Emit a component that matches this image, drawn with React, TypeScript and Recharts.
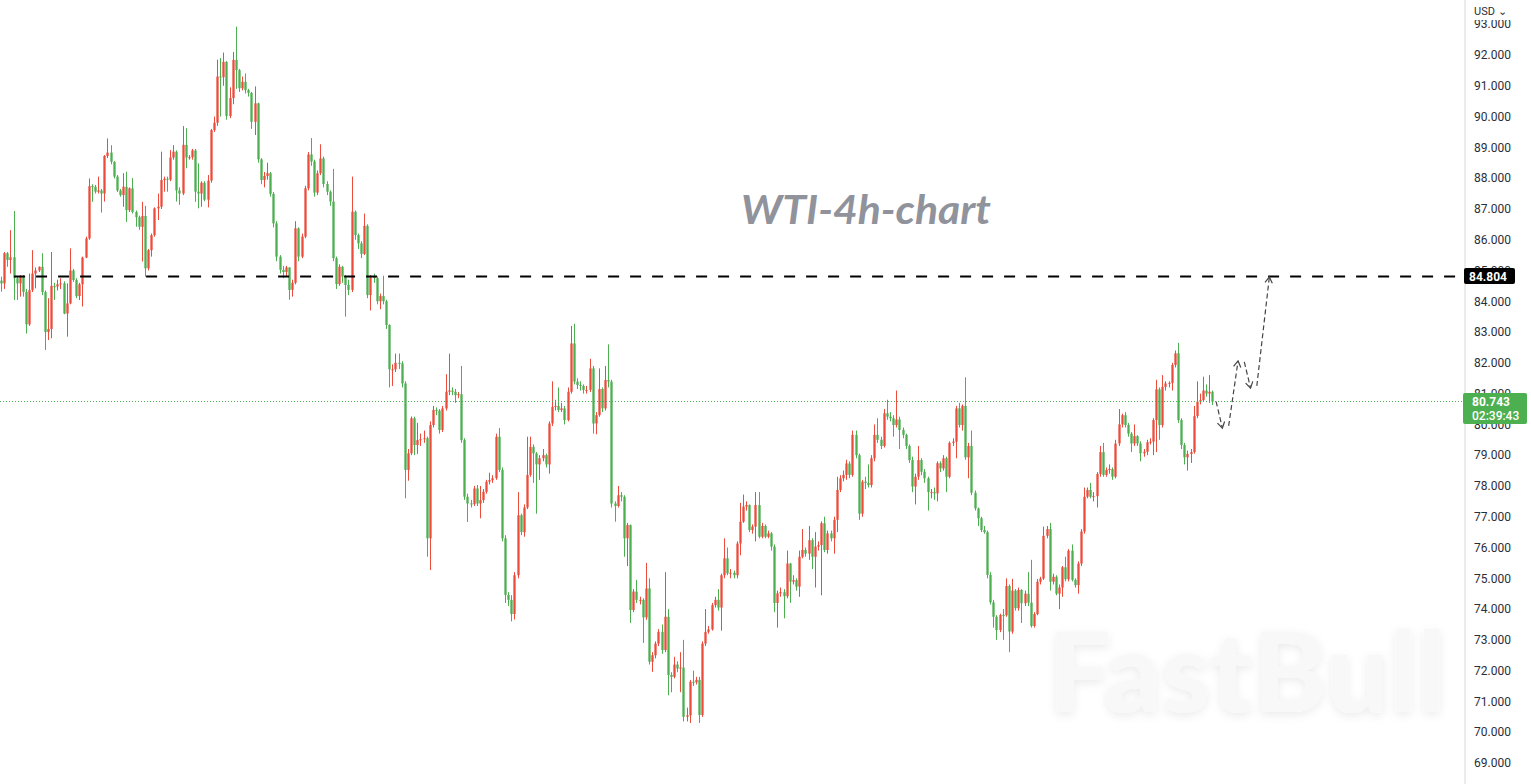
import React from 'react';
import { ComposedChart, Bar, XAxis, YAxis, ReferenceLine } from 'recharts';

// ---------- data ----------
const firstOpen = 84.67;

const closes: number[] = [
  84.58, 85.56, 85.34, 85.43, 84.75, 84.58, 84.80, 84.30, 83.25, 84.36,
  84.90, 85.00, 85.12, 84.30, 83.00, 83.10, 84.50, 84.48, 84.55, 84.58,
  83.60, 83.93, 85.00, 84.69, 84.17, 84.55, 85.42, 86.04, 87.74, 87.72,
  87.56, 87.60, 87.50, 88.72, 88.83, 88.53, 88.05, 87.60, 87.45, 87.72,
  86.96, 87.67, 86.90, 86.73, 86.42, 86.77, 85.07, 85.66, 86.15, 87.02,
  87.07, 87.94, 87.98, 87.95, 88.67, 88.86, 87.60, 87.50, 89.08, 88.67,
  88.68, 88.90, 87.56, 87.50, 87.85, 87.30, 87.92,
  89.56, 89.80, 91.30, 91.28, 91.78, 90.02, 90.60, 91.84, 91.51, 90.92,
  91.13, 90.86, 90.77, 89.83, 90.43, 88.61, 87.94, 88.07, 88.16, 87.49,
  86.53, 85.45, 85.02, 84.95, 85.10, 84.37, 84.60, 86.37, 85.45, 86.10,
  87.67, 88.77, 88.54, 87.53, 88.16, 88.64, 87.81, 87.56, 87.24, 85.40,
  84.56, 85.12, 84.80, 84.53, 84.37, 86.91, 86.15, 85.88, 85.54, 86.45,
  84.20, 84.80, 84.75, 84.00, 84.17, 84.00, 83.23, 81.79, 81.79, 82.00,
  81.98, 81.33, 78.52,
  79.06, 80.20, 79.33, 79.49, 79.52, 79.55, 76.30, 79.98, 80.47, 80.45,
  79.82, 80.52, 81.06, 81.10, 81.06, 80.95, 80.98, 79.49, 77.65, 77.43,
  77.41, 77.92, 77.43, 77.54, 77.81, 78.14, 78.19, 78.25, 79.60, 78.52,
  76.30, 74.46, 74.30, 73.84, 75.10, 77.05, 76.50, 77.30, 78.36, 79.27,
  79.06, 78.70, 78.90, 79.00, 78.70, 80.03, 80.57, 80.60, 80.47, 80.52,
  80.14, 81.06, 82.63, 81.39, 81.28, 81.25, 81.12, 81.12, 81.82, 80.03,
  80.30, 81.15, 80.52, 81.44, 81.39,
  77.43, 77.35, 77.70, 77.65, 76.30, 76.73, 73.97, 74.57, 74.30, 74.30,
  73.73, 74.67, 72.29, 72.50, 72.88, 73.26, 72.67, 73.75, 71.86, 71.80,
  72.20, 72.07, 72.10, 70.50, 70.55, 71.64, 71.62, 71.70, 70.56, 72.88,
  73.26, 73.34, 74.13, 74.30, 74.05, 75.10, 75.65, 75.16, 75.18, 75.10,
  76.13, 76.84, 77.33, 77.38, 76.57, 76.68, 77.38, 76.35, 76.70, 76.35,
  76.46, 76.03, 74.20, 74.51, 74.55, 74.42, 75.48, 74.89, 74.94, 74.73,
  75.70, 75.92, 75.80, 76.24,
  75.70, 76.03, 76.08, 76.79, 75.92, 76.46, 76.30, 76.90, 77.87, 78.25,
  78.36, 78.73, 78.36, 79.66, 79.00, 77.10, 78.14, 78.10, 78.03, 78.90,
  79.66, 79.50, 79.30, 80.36, 80.25, 80.20, 79.98, 80.16, 79.82, 79.66,
  79.30, 78.84, 77.98, 78.30, 78.84, 78.46, 78.25, 77.80, 77.80, 77.76,
  78.74, 78.57, 78.90, 78.30, 79.40, 79.44, 80.52, 79.98, 80.60, 78.93,
  79.30, 77.78, 77.27, 76.95, 76.57, 76.50, 75.11, 74.22, 73.75, 73.32,
  73.81, 73.80,
  74.75, 73.27, 74.60, 74.03, 74.62, 74.19, 74.50, 74.21, 73.45, 73.84,
  74.89, 74.99, 76.38, 76.60, 74.89, 75.05, 74.50, 74.70, 75.36, 74.97,
  75.90, 74.95,
  74.78, 75.48, 76.52, 77.65, 77.87, 77.65, 77.67, 78.39, 79.10, 78.36,
  78.52, 78.55, 78.30, 79.38, 80.00, 80.30, 79.98, 79.70, 79.38, 79.62,
  79.38, 79.06, 79.11, 79.42, 79.44, 80.14, 81.14, 79.98, 81.22, 81.33,
  81.35, 81.93, 82.31, 80.14, 79.33, 78.93, 79.04, 79.10, 80.27, 80.74,
  80.79, 81.10, 81.00, 81.06, 80.743,
];

const highs: number[] = [
  84.80, 85.60, 85.60, 86.31, 86.93, 84.80, 84.85, 84.85, 84.40, 84.90,
  85.66, 85.10, 85.13, 85.56, 84.35, 84.10, 85.60, 84.60, 84.70, 84.75,
  84.65, 84.58, 85.72, 85.05, 84.75, 84.60, 85.45, 86.10, 87.99, 87.80,
  87.78, 88.05, 87.65, 88.75, 89.29, 89.07, 88.55, 88.10, 87.65, 88.16,
  88.21, 87.70, 88.00, 86.95, 86.78, 87.23, 87.10, 85.70, 86.20, 87.05,
  87.50, 88.86, 88.05, 88.05, 88.91, 89.07, 88.90, 87.70, 89.69, 89.62,
  88.75, 88.95, 88.95, 88.48, 87.90, 87.90, 88.10,
  89.60, 90.00, 91.85, 91.90, 92.08, 91.80, 90.95, 92.10, 92.92, 91.55,
  91.30, 91.40, 90.90, 90.80, 90.98, 90.45, 88.65, 88.20, 88.50, 88.20,
  87.55, 86.60, 85.50, 85.15, 85.15, 85.10, 84.70, 86.60, 86.40, 86.20,
  87.75, 88.85, 89.30, 88.60, 88.25, 89.10, 88.70, 87.90, 87.60, 88.30,
  85.45, 85.20, 85.15, 84.85, 84.70, 88.05, 86.95, 86.20, 85.95, 86.85,
  86.50, 84.85, 84.90, 84.80, 84.25, 84.83, 84.05, 83.25, 81.95, 82.30,
  82.30, 82.05, 81.40,
  79.20, 80.26, 80.25, 80.05, 79.70, 79.80, 79.60, 80.10, 80.60, 80.55,
  80.50, 80.60, 81.63, 82.30, 81.20, 81.15, 81.05, 81.90, 79.55, 77.75,
  77.55, 78.00, 78.03, 78.00, 77.90, 78.20, 78.43, 78.35, 79.70, 79.88,
  78.60, 76.40, 74.55, 74.45, 75.20, 77.80, 77.10, 77.40, 79.60, 79.60,
  79.35, 79.10, 79.00, 79.20, 79.05, 80.10, 81.40, 80.80, 81.20, 80.70,
  80.60, 81.20, 83.20, 83.27, 81.50, 81.40, 81.30, 81.25, 82.13, 81.90,
  80.40, 81.82, 81.20, 81.90, 82.60,
  81.45, 77.50, 78.00, 77.80, 77.70, 76.80, 76.75, 74.65, 74.95, 74.40,
  74.35, 75.50, 75.00, 72.60, 72.95, 73.35, 73.50, 75.20, 74.00, 71.95,
  72.45, 72.30, 72.60, 73.00, 70.80, 71.70, 72.00, 71.80, 71.80, 72.95,
  74.00, 73.45, 74.20, 74.40, 74.65, 75.15, 76.30, 76.00, 75.30, 75.25,
  76.20, 77.45, 77.72, 77.50, 77.40, 76.75, 77.80, 77.80, 76.80, 76.75,
  76.55, 76.50, 76.10, 74.60, 74.70, 74.65, 75.90, 75.50, 75.10, 75.00,
  75.90, 76.60, 76.00, 76.70,
  76.30, 76.50, 76.20, 76.85, 77.00, 76.55, 76.55, 77.00, 78.30, 78.35,
  78.50, 78.85, 78.80, 79.80, 79.80, 79.05, 78.20, 78.30, 78.70, 79.00,
  80.00, 80.20, 79.60, 80.50, 80.80, 80.40, 80.30, 81.10, 80.25, 79.90,
  79.70, 79.35, 78.95, 78.40, 79.30, 78.90, 78.55, 78.30, 77.90, 77.95,
  78.80, 78.80, 79.00, 78.95, 79.45, 79.55, 80.60, 80.70, 80.65, 81.53,
  79.40, 79.80, 77.85, 77.30, 77.00, 76.70, 76.55, 75.20, 74.30, 73.80,
  73.85, 74.00,
  75.00, 74.80, 74.98, 74.65, 74.70, 74.65, 74.60, 75.20, 75.60, 73.90,
  74.98, 75.05, 76.68, 76.70, 76.80, 75.15, 75.10, 74.80, 75.40, 75.70,
  75.95, 76.10,
  75.00, 75.55, 76.60, 77.95, 77.95, 78.10, 77.80, 78.45, 79.30, 79.40,
  78.60, 78.70, 78.60, 79.50, 80.50, 80.35, 80.40, 80.05, 79.75, 80.00,
  79.65, 79.45, 79.20, 79.50, 79.55, 80.20, 81.45, 81.20, 81.60, 81.40,
  81.40, 82.00, 82.40, 82.65, 80.20, 79.40, 79.15, 79.20, 80.60, 81.40,
  81.00, 81.55, 81.30, 81.60, 81.10,
];

const lows: number[] = [
  84.31, 84.40, 85.12, 84.90, 84.04, 84.04, 84.15, 84.15, 82.95, 83.20,
  84.30, 84.42, 84.95, 84.20, 82.42, 82.74, 82.80, 84.04, 84.35, 84.40,
  83.58, 82.85, 83.90, 84.63, 84.10, 84.04, 83.83, 85.40, 86.00, 87.23,
  87.50, 87.50, 86.88, 87.24, 88.65, 88.45, 87.99, 87.55, 87.40, 87.07,
  86.58, 86.90, 86.85, 86.42, 86.32, 85.29, 84.80, 85.00, 85.45, 86.10,
  86.64, 87.00, 87.56, 87.56, 87.90, 88.60, 87.24, 87.13, 87.45, 88.32,
  88.60, 88.60, 87.23, 87.02, 87.07, 87.25, 87.05,
  87.85, 89.50, 89.70, 90.00, 91.00, 89.90, 89.95, 90.40, 90.90, 90.80,
  90.85, 90.75, 90.65, 89.60, 89.40, 88.50, 87.80, 87.70, 87.95, 87.40,
  86.40, 85.30, 84.90, 84.75, 84.80, 84.05, 84.15, 84.55, 85.30, 85.40,
  86.05, 87.60, 88.40, 87.40, 87.45, 88.10, 87.70, 87.45, 87.10, 85.30,
  84.40, 84.50, 84.60, 83.50, 84.20, 84.30, 86.00, 85.70, 85.40, 85.50,
  84.10, 83.70, 84.60, 83.90, 83.74, 83.90, 83.10, 81.20, 81.25, 81.70,
  81.80, 81.20, 77.60,
  78.17, 79.00, 79.00, 79.04, 79.30, 79.40, 75.70, 75.27, 79.90, 80.30,
  79.70, 79.75, 80.45, 80.95, 80.95, 80.70, 80.85, 79.40, 77.55, 76.83,
  77.30, 77.35, 77.35, 76.95, 77.45, 77.75, 78.05, 78.10, 78.20, 78.45,
  76.20, 74.20, 74.10, 73.60, 73.66, 75.00, 76.40, 76.35, 77.25, 78.30,
  78.10, 77.10, 78.20, 78.80, 78.60, 78.40, 79.95, 80.45, 80.40, 80.40,
  80.00, 80.10, 81.00, 81.30, 81.15, 81.10, 81.00, 81.00, 81.05, 79.70,
  79.68, 80.25, 80.40, 80.45, 81.20,
  77.30, 76.84, 77.30, 77.50, 75.70, 75.40, 73.55, 73.90, 74.20, 74.15,
  72.90, 73.65, 72.20, 71.96, 72.40, 72.80, 72.55, 72.60, 71.20, 71.30,
  71.75, 71.95, 71.30, 70.35, 70.35, 70.30, 71.50, 71.55, 70.30, 70.50,
  72.80, 73.20, 73.30, 74.05, 73.95, 73.30, 75.00, 75.10, 75.00, 75.00,
  75.00, 75.75, 76.80, 77.20, 76.50, 76.45, 76.20, 76.30, 76.30, 76.30,
  76.30, 75.90, 73.90, 73.40, 74.40, 73.70, 74.35, 74.20, 74.80, 74.60,
  74.40, 75.65, 75.70, 75.60,
  75.30, 74.70, 75.90, 74.45, 75.85, 75.80, 76.20, 75.80, 76.50, 77.80,
  78.15, 78.20, 78.25, 78.30, 78.90, 76.90, 77.00, 77.90, 77.95, 77.95,
  78.80, 79.40, 79.20, 79.25, 80.15, 80.10, 79.60, 79.90, 79.20, 79.55,
  79.20, 78.75, 77.80, 77.40, 78.20, 78.35, 78.10, 77.20, 77.60, 77.55,
  77.50, 78.45, 78.50, 77.80, 78.25, 79.30, 78.90, 79.90, 79.80, 78.85,
  78.25, 77.70, 77.20, 76.70, 76.50, 76.45, 75.00, 74.15, 73.40, 73.00,
  73.25, 73.00,
  73.75, 72.60, 73.20, 73.95, 73.95, 73.55, 74.10, 74.10, 73.40, 73.40,
  73.80, 74.80, 74.95, 76.30, 74.60, 74.80, 74.45, 74.00, 74.40, 74.90,
  74.90, 74.90,
  74.70, 74.50, 75.40, 76.45, 77.60, 77.60, 77.50, 77.30, 78.30, 78.30,
  78.30, 78.40, 78.20, 78.25, 79.30, 79.90, 79.90, 79.60, 79.10, 79.30,
  79.30, 78.80, 78.95, 79.00, 79.35, 79.00, 79.10, 79.50, 79.90, 81.10,
  81.20, 81.10, 81.85, 80.05, 79.20, 78.70, 78.50, 78.75, 79.05, 80.20,
  80.65, 80.75, 80.90, 80.70, 80.63,
];

const futureBars = 80; // empty bar slots to the right of the last candle
const priceTicks = [69, 70, 71, 72, 73, 74, 75, 76, 77, 78, 79, 80, 81, 82, 83, 84, 85, 86, 87, 88, 89, 90, 91, 92, 93];
const lastPrice = 80.743;
const countdown = '02:39:43';
const targetLevel = 84.804;
const targetStartBar = 4;
const priceDomain: [number, number] = [68.318, 93.787];

// projected path: [fromBar, fromPrice, toBar, toPrice]
const projFrom = [388, 392, 397, 401];
const projFromPrice = [80.74, 79.95, 82.03, 81.25];
const projTo = [390, 395, 399, 405];
const projToPrice = [79.88, 82.06, 81.18, 84.79];

// ---------- styling ----------
const UP = '#eb4c3c';
const DOWN = '#4caf50';
const AXIS_FONT = 'Roboto, "Liberation Sans", sans-serif';

type Row = { i: number; open?: number; close?: number; high?: number; low?: number };

const rows: Row[] = Array.from({ length: closes.length + futureBars }, (_, i) => {
  if (i >= closes.length) return { i };
  const open = i === 0 ? firstOpen : closes[i - 1];
  const close = closes[i];
  return {
    i,
    open,
    close,
    high: Math.max(highs[i], open, close),
    low: Math.min(lows[i], open, close),
  };
});

const Candle = (props: any) => {
  const { x, y, width, height, payload } = props;
  if (!payload || payload.high == null || x == null || y == null) return null;
  const { open, close, high, low } = payload;
  const yTop = Math.min(y, y + height);
  const yBot = Math.max(y, y + height);
  const range = high - low;
  const py = (v: number) => (range > 0 ? yTop + ((high - v) / range) * (yBot - yTop) : yTop);
  const color = close >= open ? UP : DOWN;
  const cx = Math.floor(x + width / 2) + 0.5;
  const bTop = py(Math.max(open, close));
  const bBot = py(Math.min(open, close));
  const bw = 2.3;
  return (
    <g>
      <line x1={cx} x2={cx} y1={yTop} y2={yBot} stroke={color} strokeWidth={1} />
      <rect x={cx - bw / 2} y={bTop} width={bw} height={Math.max(1, bBot - bTop)} fill={color} />
    </g>
  );
};

// Price-axis tick: ordinary price labels, plus the two price tags (drawn last so they sit on top).
const PriceTick = (props: any) => {
  const { x, y, payload } = props;
  const v = payload?.value;
  if (v == null || x == null || y == null) return null;
  if (v === targetLevel) {
    const left = x - 10;
    return (
      <g>
        <rect x={left} y={y - 8.5} width={51} height={16} rx={2} fill="#000" />
        <text x={left + 5} y={y + 4} fill="#fff" fontSize={12} fontWeight={700} fontFamily={AXIS_FONT}>
          {targetLevel.toFixed(3)}
        </text>
      </g>
    );
  }
  if (v === lastPrice) {
    const left = x - 11;
    return (
      <g>
        <rect x={left} y={y - 8.5} width={64} height={31} rx={2} fill={DOWN} />
        <text x={left + 9} y={y + 4.5} fill="#fff" fontSize={12} fontWeight={700} fontFamily={AXIS_FONT}>
          {lastPrice.toFixed(3)}
        </text>
        <text x={left + 9} y={y + 18.5} fill="#fff" fontSize={12} fontWeight={500} fontFamily={AXIS_FONT}>
          {countdown}
        </text>
      </g>
    );
  }
  return (
    <text x={x} y={y} dy="0.355em" textAnchor="start" fill="#2a2e39" fontSize={12} fontFamily={AXIS_FONT}>
      {Number(v).toFixed(3)}
    </text>
  );
};

const ArrowShape = (props: any) => {
  const { x1, y1, x2, y2 } = props;
  if ([x1, y1, x2, y2].some((v) => v == null || isNaN(v))) return null;
  const ang = Math.atan2(y2 - y1, x2 - x1);
  const L = 7;
  const s = 0.55;
  const ax = x2 - L * Math.cos(ang - s);
  const ay = y2 - L * Math.sin(ang - s);
  const bx = x2 - L * Math.cos(ang + s);
  const by = y2 - L * Math.sin(ang + s);
  return (
    <g>
      <line x1={x1} y1={y1} x2={x2} y2={y2} stroke="#444" strokeWidth={1.2} strokeDasharray="5 3" />
      <polyline points={`${ax},${ay} ${x2},${y2} ${bx},${by}`} fill="none" stroke="#444" strokeWidth={1.2} />
    </g>
  );
};

export default function App() {
  const W = 1531;
  const H = 784;
  return (
    <div style={{ position: 'fixed', left: 0, top: 0, width: W, height: H, background: '#fff', overflow: 'hidden' }}>
      <ComposedChart width={W} height={H} data={rows} margin={{ top: 0, right: 0, bottom: 0, left: 0 }} barCategoryGap={0}>
        <XAxis dataKey="i" type="category" hide />
        <YAxis
          orientation="right"
          domain={priceDomain}
          allowDataOverflow
          ticks={[...priceTicks, targetLevel, lastPrice]}
          interval={0}
          width={66}
          axisLine={{ stroke: '#d6d8de' }}
          tickLine={false}
          tickMargin={3}
          tick={<PriceTick />}
        />
        <ReferenceLine y={lastPrice} stroke={DOWN} strokeWidth={1} strokeDasharray="1 2" />
        <Bar dataKey={(d: Row) => (d.high == null ? null : [d.low, d.high])} shape={Candle} isAnimationActive={false} />
        <ReferenceLine
          segment={[{ x: targetStartBar, y: targetLevel }, { x: rows.length - 2, y: targetLevel }]}
          stroke="#000"
          strokeWidth={2}
          strokeDasharray="11 11"
        />
        {projFrom.map((f, k) => (
          <ReferenceLine
            key={k}
            segment={[{ x: f, y: projFromPrice[k] }, { x: projTo[k], y: projToPrice[k] }]}
            shape={ArrowShape}
          />
        ))}
      </ComposedChart>
      <svg width={W} height={H} style={{ position: 'absolute', left: 0, top: 0, pointerEvents: 'none' }}>
        <defs>
          <filter id="wmShadow" x="-10%" y="-30%" width="120%" height="160%">
            <feDropShadow dx="0" dy="3" stdDeviation="5" floodColor="#000" floodOpacity="0.08" />
          </filter>
        </defs>
        <text
          x={866}
          y={224}
          textAnchor="middle"
          fontSize={40}
          fontStyle="italic"
          fontWeight={700}
          fill="#90939b"
          fontFamily="Lato, 'Open Sans', sans-serif"
          textLength={250}
          lengthAdjust="spacingAndGlyphs"
        >
          WTI-4h-chart
        </text>
        <text
          x={1247}
          y={712}
          textAnchor="middle"
          fontSize={110}
          fontWeight={900}
          fill="#f8f8f8"
          fontFamily="Lato, sans-serif"
          textLength={398}
          lengthAdjust="spacingAndGlyphs"
          filter="url(#wmShadow)"
        >
          FastBull
        </text>
        <rect x={1466} y={0} width={65} height={20} fill="#fff" />
        <text x={1474} y={15} fontSize={11} fill="#2a2e39" fontFamily={AXIS_FONT}>
          USD ⌄
        </text>
      </svg>
    </div>
  );
}
